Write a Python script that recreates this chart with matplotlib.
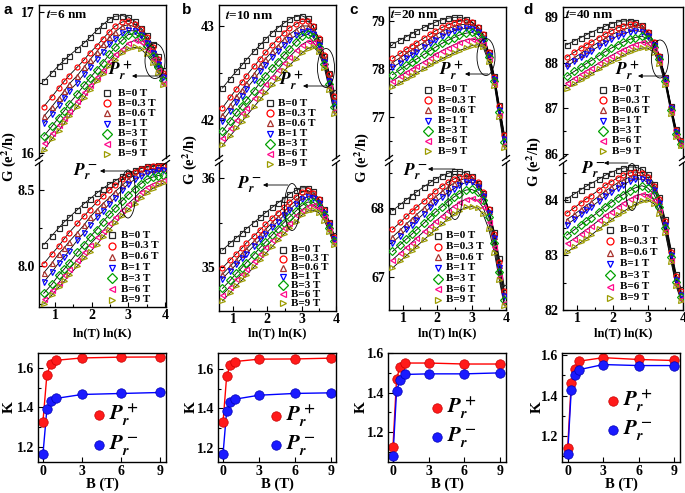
import numpy as np
import matplotlib
matplotlib.use("Agg")
import matplotlib.pyplot as plt
from matplotlib.patches import Ellipse
from matplotlib.ticker import MultipleLocator

plt.rcParams['font.family'] = 'Liberation Serif'
plt.rcParams['font.weight'] = 'bold'
plt.rcParams['mathtext.fontset'] = 'stix'
plt.rcParams['axes.linewidth'] = 1.0

W, H = 685, 493

# temperatures of the G(T) sweeps (K), plotted as ln(T)
temps = [2, 2.5, 3, 3.5, 4, 5, 6, 7, 8.5, 10, 12, 14, 17, 20, 24, 28, 33, 39, 45, 52]
fields = ["0", "0.3", "0.6", "1", "3", "6", "9"]
B_k = [0, 0.3, 0.6, 1, 3, 6, 9]

# ---- t = 6 nm
g6_plus = [
    [16.51, 16.57, 16.62, 16.66, 16.69, 16.74, 16.78, 16.82, 16.87, 16.91, 16.95, 16.97, 16.975, 16.965, 16.935, 16.89, 16.84, 16.77, 16.69, 16.59],
    [16.33, 16.40, 16.46, 16.51, 16.55, 16.61, 16.66, 16.71, 16.76, 16.81, 16.86, 16.90, 16.93, 16.935, 16.915, 16.88, 16.82, 16.75, 16.67, 16.57],
    [16.26, 16.33, 16.39, 16.44, 16.49, 16.55, 16.61, 16.66, 16.72, 16.77, 16.82, 16.86, 16.90, 16.91, 16.895, 16.86, 16.80, 16.73, 16.65, 16.56],
    [16.21, 16.28, 16.34, 16.39, 16.44, 16.50, 16.56, 16.61, 16.67, 16.72, 16.77, 16.81, 16.85, 16.87, 16.865, 16.835, 16.78, 16.71, 16.63, 16.54],
    [16.12, 16.19, 16.25, 16.30, 16.35, 16.42, 16.48, 16.53, 16.59, 16.64, 16.70, 16.75, 16.80, 16.84, 16.845, 16.82, 16.76, 16.69, 16.61, 16.52],
    [16.07, 16.14, 16.20, 16.25, 16.30, 16.37, 16.43, 16.48, 16.54, 16.59, 16.65, 16.70, 16.74, 16.78, 16.80, 16.785, 16.74, 16.67, 16.59, 16.50],
    [16.02, 16.10, 16.16, 16.21, 16.26, 16.33, 16.39, 16.45, 16.51, 16.56, 16.62, 16.66, 16.71, 16.74, 16.75, 16.74, 16.70, 16.64, 16.57, 16.48],
]
g6_minus = [
    [8.14, 8.20, 8.25, 8.29, 8.32, 8.37, 8.41, 8.44, 8.48, 8.51, 8.54, 8.56, 8.59, 8.61, 8.63, 8.645, 8.655, 8.66, 8.665, 8.665],
    [8.015, 8.08, 8.13, 8.18, 8.22, 8.28, 8.33, 8.37, 8.42, 8.46, 8.50, 8.53, 8.57, 8.60, 8.62, 8.64, 8.65, 8.655, 8.66, 8.66],
    [7.955, 8.02, 8.08, 8.12, 8.16, 8.22, 8.27, 8.32, 8.37, 8.41, 8.45, 8.49, 8.53, 8.57, 8.60, 8.62, 8.63, 8.64, 8.645, 8.645],
    [7.894, 7.96, 8.02, 8.06, 8.10, 8.17, 8.22, 8.27, 8.32, 8.36, 8.41, 8.45, 8.50, 8.54, 8.57, 8.59, 8.61, 8.62, 8.63, 8.63],
    [7.82, 7.88, 7.94, 7.98, 8.02, 8.09, 8.14, 8.19, 8.24, 8.29, 8.34, 8.38, 8.43, 8.47, 8.51, 8.54, 8.57, 8.585, 8.595, 8.60],
    [7.78, 7.84, 7.89, 7.94, 7.98, 8.04, 8.09, 8.14, 8.19, 8.23, 8.28, 8.32, 8.37, 8.41, 8.45, 8.49, 8.52, 8.54, 8.555, 8.565],
    [7.75, 7.81, 7.86, 7.90, 7.94, 8.00, 8.05, 8.09, 8.14, 8.19, 8.24, 8.28, 8.33, 8.37, 8.41, 8.45, 8.48, 8.51, 8.53, 8.545],
]
k6_plus = [1.328, 1.563, 1.622, 1.639, 1.651, 1.655, 1.656]
k6_minus = [1.163, 1.390, 1.434, 1.446, 1.466, 1.471, 1.476]

# ---- t = 10 nm
g10_plus = [
    [42.34, 42.44, 42.52, 42.58, 42.64, 42.73, 42.80, 42.86, 42.93, 42.98, 43.03, 43.07, 43.10, 43.11, 43.08, 43.00, 42.86, 42.68, 42.50, 42.30],
    [42.13, 42.24, 42.33, 42.40, 42.47, 42.57, 42.65, 42.72, 42.80, 42.86, 42.93, 42.98, 43.02, 43.05, 43.05, 43.00, 42.87, 42.69, 42.49, 42.26],
    [42.05, 42.16, 42.25, 42.32, 42.39, 42.49, 42.58, 42.65, 42.73, 42.79, 42.86, 42.91, 42.96, 43.00, 43.00, 42.96, 42.84, 42.66, 42.46, 42.22],
    [41.99, 42.10, 42.19, 42.26, 42.33, 42.43, 42.52, 42.59, 42.67, 42.73, 42.80, 42.85, 42.90, 42.94, 42.95, 42.91, 42.80, 42.62, 42.42, 42.18],
    [41.88, 41.99, 42.08, 42.15, 42.21, 42.31, 42.40, 42.47, 42.55, 42.62, 42.69, 42.75, 42.83, 42.89, 42.91, 42.88, 42.78, 42.60, 42.38, 42.14],
    [41.81, 41.91, 42.00, 42.07, 42.13, 42.23, 42.31, 42.38, 42.46, 42.53, 42.61, 42.67, 42.74, 42.80, 42.84, 42.83, 42.75, 42.58, 42.35, 42.10],
    [41.73, 41.83, 41.91, 41.98, 42.04, 42.14, 42.22, 42.29, 42.37, 42.44, 42.52, 42.58, 42.65, 42.71, 42.76, 42.78, 42.72, 42.55, 42.32, 42.06],
]
g10_minus = [
    [35.19, 35.27, 35.33, 35.38, 35.43, 35.50, 35.56, 35.61, 35.67, 35.72, 35.77, 35.82, 35.86, 35.89, 35.89, 35.85, 35.77, 35.65, 35.51, 35.36],
    [34.99, 35.08, 35.15, 35.21, 35.27, 35.35, 35.42, 35.48, 35.55, 35.61, 35.67, 35.73, 35.79, 35.84, 35.86, 35.83, 35.76, 35.64, 35.50, 35.34],
    [34.92, 35.01, 35.08, 35.15, 35.20, 35.29, 35.36, 35.42, 35.50, 35.56, 35.62, 35.68, 35.75, 35.80, 35.83, 35.81, 35.74, 35.62, 35.48, 35.33],
    [34.87, 34.96, 35.03, 35.10, 35.15, 35.24, 35.31, 35.37, 35.45, 35.51, 35.58, 35.64, 35.71, 35.76, 35.79, 35.78, 35.72, 35.61, 35.47, 35.31],
    [34.76, 34.85, 34.93, 34.99, 35.05, 35.14, 35.22, 35.28, 35.36, 35.43, 35.50, 35.56, 35.63, 35.69, 35.73, 35.73, 35.68, 35.58, 35.44, 35.29],
    [34.69, 34.78, 34.86, 34.92, 34.98, 35.07, 35.15, 35.22, 35.30, 35.37, 35.44, 35.50, 35.58, 35.64, 35.69, 35.70, 35.66, 35.56, 35.42, 35.27],
    [34.62, 34.71, 34.79, 34.85, 34.91, 35.00, 35.08, 35.15, 35.23, 35.30, 35.37, 35.44, 35.51, 35.58, 35.63, 35.64, 35.61, 35.52, 35.39, 35.25],
]
k10_plus = [1.331, 1.562, 1.620, 1.637, 1.649, 1.650, 1.654]
k10_minus = [1.170, 1.388, 1.434, 1.447, 1.467, 1.476, 1.479]

# ---- t = 20 nm
g20_plus = [
    [78.51, 78.60, 78.67, 78.73, 78.78, 78.86, 78.92, 78.97, 79.02, 79.05, 79.07, 79.07, 79.04, 78.98, 78.87, 78.72, 78.35, 77.85, 77.25, 76.65],
    [78.22, 78.32, 78.41, 78.48, 78.54, 78.64, 78.72, 78.79, 78.86, 78.91, 78.96, 78.99, 79.00, 78.97, 78.87, 78.72, 78.34, 77.83, 77.22, 76.62],
    [78.13, 78.23, 78.32, 78.39, 78.45, 78.55, 78.63, 78.70, 78.78, 78.83, 78.88, 78.91, 78.93, 78.91, 78.83, 78.69, 78.32, 77.81, 77.19, 76.58],
    [78.03, 78.13, 78.22, 78.29, 78.35, 78.45, 78.53, 78.60, 78.68, 78.74, 78.79, 78.82, 78.84, 78.83, 78.76, 78.63, 78.28, 77.78, 77.15, 76.54],
    [77.88, 77.98, 78.07, 78.14, 78.20, 78.30, 78.38, 78.45, 78.53, 78.59, 78.65, 78.70, 78.74, 78.76, 78.71, 78.59, 78.25, 77.74, 77.10, 76.48],
    [77.75, 77.85, 77.93, 78.00, 78.06, 78.15, 78.23, 78.30, 78.38, 78.44, 78.50, 78.55, 78.60, 78.62, 78.60, 78.51, 78.20, 77.69, 77.05, 76.42],
    [77.62, 77.71, 77.79, 77.85, 77.91, 78.00, 78.08, 78.14, 78.21, 78.27, 78.33, 78.38, 78.43, 78.48, 78.50, 78.45, 78.15, 77.65, 77.00, 76.35],
]
g20_minus = [
    [67.96, 68.05, 68.12, 68.18, 68.23, 68.31, 68.37, 68.42, 68.47, 68.50, 68.53, 68.53, 68.51, 68.46, 68.36, 68.22, 67.98, 67.65, 67.27, 66.86],
    [67.69, 67.79, 67.88, 67.95, 68.01, 68.10, 68.18, 68.25, 68.32, 68.37, 68.42, 68.45, 68.47, 68.45, 68.37, 68.23, 67.98, 67.63, 67.22, 66.80],
    [67.58, 67.68, 67.77, 67.84, 67.90, 68.00, 68.09, 68.16, 68.24, 68.30, 68.36, 68.40, 68.43, 68.42, 68.35, 68.21, 67.96, 67.60, 67.18, 66.76],
    [67.50, 67.60, 67.69, 67.76, 67.82, 67.92, 68.01, 68.08, 68.16, 68.22, 68.28, 68.33, 68.37, 68.37, 68.31, 68.18, 67.93, 67.56, 67.14, 66.72],
    [67.37, 67.47, 67.55, 67.62, 67.68, 67.78, 67.87, 67.94, 68.02, 68.09, 68.16, 68.21, 68.26, 68.27, 68.23, 68.11, 67.87, 67.50, 67.07, 66.66],
    [67.25, 67.35, 67.43, 67.50, 67.56, 67.66, 67.74, 67.81, 67.89, 67.96, 68.03, 68.08, 68.13, 68.14, 68.11, 68.01, 67.79, 67.43, 67.00, 66.62],
    [67.13, 67.23, 67.31, 67.38, 67.44, 67.54, 67.62, 67.69, 67.77, 67.84, 67.91, 67.96, 68.01, 68.02, 68.00, 67.91, 67.70, 67.35, 66.95, 66.58],
]
k20_plus = [1.125, 1.471, 1.533, 1.551, 1.551, 1.546, 1.546]
k20_minus = [1.081, 1.409, 1.466, 1.493, 1.496, 1.496, 1.501]

# ---- t = 40 nm
g40_plus = [
    [88.39, 88.48, 88.55, 88.61, 88.66, 88.74, 88.80, 88.85, 88.89, 88.91, 88.92, 88.90, 88.82, 88.68, 88.45, 88.15, 87.68, 87.05, 86.55, 86.30],
    [88.12, 88.23, 88.32, 88.39, 88.45, 88.55, 88.63, 88.69, 88.76, 88.80, 88.84, 88.85, 88.80, 88.67, 88.45, 88.15, 87.67, 87.03, 86.52, 86.28],
    [88.00, 88.11, 88.20, 88.28, 88.34, 88.45, 88.53, 88.60, 88.67, 88.72, 88.77, 88.79, 88.76, 88.64, 88.43, 88.13, 87.66, 87.01, 86.50, 86.26],
    [87.92, 88.03, 88.12, 88.19, 88.25, 88.36, 88.44, 88.51, 88.58, 88.63, 88.68, 88.70, 88.68, 88.58, 88.39, 88.10, 87.64, 87.00, 86.48, 86.24],
    [87.70, 87.81, 87.90, 87.98, 88.04, 88.15, 88.24, 88.31, 88.39, 88.45, 88.51, 88.55, 88.58, 88.52, 88.35, 88.07, 87.60, 86.96, 86.44, 86.22],
    [87.56, 87.66, 87.75, 87.82, 87.88, 87.99, 88.08, 88.15, 88.23, 88.29, 88.36, 88.41, 88.45, 88.42, 88.29, 88.02, 87.56, 86.92, 86.40, 86.20],
    [87.43, 87.53, 87.62, 87.69, 87.75, 87.85, 87.94, 88.01, 88.09, 88.16, 88.23, 88.28, 88.32, 88.32, 88.22, 87.97, 87.52, 86.88, 86.36, 86.17],
]
g40_minus = [
    [84.02, 84.11, 84.19, 84.25, 84.30, 84.38, 84.45, 84.50, 84.55, 84.58, 84.60, 84.60, 84.56, 84.47, 84.30, 84.05, 83.65, 83.10, 82.65, 82.38],
    [83.76, 83.86, 83.95, 84.02, 84.08, 84.18, 84.27, 84.33, 84.40, 84.45, 84.49, 84.51, 84.49, 84.41, 84.25, 84.01, 83.61, 83.06, 82.61, 82.34],
    [83.64, 83.74, 83.83, 83.90, 83.96, 84.07, 84.16, 84.23, 84.31, 84.36, 84.42, 84.45, 84.44, 84.37, 84.22, 83.98, 83.58, 83.03, 82.58, 82.31],
    [83.55, 83.65, 83.74, 83.81, 83.87, 83.98, 84.07, 84.14, 84.22, 84.28, 84.34, 84.38, 84.38, 84.32, 84.18, 83.95, 83.55, 83.00, 82.55, 82.28],
    [83.36, 83.46, 83.55, 83.62, 83.68, 83.79, 83.88, 83.95, 84.04, 84.10, 84.17, 84.22, 84.26, 84.22, 84.10, 83.88, 83.50, 82.96, 82.51, 82.24],
    [83.21, 83.30, 83.39, 83.46, 83.52, 83.63, 83.72, 83.79, 83.88, 83.95, 84.02, 84.07, 84.11, 84.10, 84.00, 83.80, 83.44, 82.91, 82.47, 82.20],
    [83.05, 83.14, 83.23, 83.30, 83.36, 83.47, 83.56, 83.63, 83.72, 83.79, 83.86, 83.92, 83.98, 84.00, 83.93, 83.75, 83.40, 82.87, 82.43, 82.16],
]
k40_plus = [1.140, 1.462, 1.532, 1.570, 1.587, 1.578, 1.573]
k40_minus = [1.112, 1.425, 1.503, 1.528, 1.553, 1.548, 1.548]

cols = ['#262626', '#FF0000', '#A8322D', '#0000FF', '#00A000', '#FF0A8C', '#9C9C00']
marks = ['s', 'o', '^', 'v', 'D', '<', '>']

# layout in pixels: (left, top, right, bottom)
panels = [
    dict(tag='a', th='6', up=(39, 5, 166, 158), lo=(39, 163, 166, 307), kk=(38, 353, 166, 462),
         xlim=(0.564, 4.027), uy=(15.965, 17.05), ut=[16, 17], ly=(7.73, 8.678), lt=[8.0, 8.5], lmin=0.25,
         gp=g6_plus, gm=g6_minus, kp=k6_plus, km=k6_minus, ky=(1.124, 1.676), kx=(-0.38, 9.46),
         letter=(4, 10), ttl=(46, 15), glab=(9, 157), klab=(9, 407),
         leg_u=(107, 118, 93, 154), leg_l=(112, 121, 235, 300),
         ell_u=(155, 61, 20, 35), arr_u=(158, 132, 76), pl_u=(121, 71),
         ell_l=(128, 194, 15, 48), arr_l=(125, 100, 171), pl_l=(86, 172),
         kleg=(99, 415, 445)),
    dict(tag='b', th='10', up=(219, 5, 336, 158), lo=(219, 163, 336, 311), kk=(218, 353, 336, 462),
         xlim=(0.592, 4.0), uy=(41.596, 43.223), ut=[42, 43], ly=(34.506, 36.169), lt=[35, 36], lmin=0.5,
         gp=g10_plus, gm=g10_minus, kp=k10_plus, km=k10_minus, ky=(1.13, 1.68), kx=(-0.42, 9.42),
         letter=(182, 10), ttl=(225, 16), glab=(190, 160), klab=(191, 407),
         leg_u=(270, 278, 103, 164), leg_l=(283, 291, 250, 303),
         ell_u=(326, 68, 17, 39), arr_u=(327, 303, 86), pl_u=(292, 81),
         ell_l=(292, 207, 15, 47), arr_l=(288, 263, 185), pl_l=(250, 185),
         kleg=(276, 416, 445)),
    dict(tag='c', th='20', up=(389, 7, 506, 158), lo=(389, 163, 506, 310), kk=(388, 353, 506, 462),
         xlim=(0.592, 4.0), uy=(76.15, 79.284), ut=[77, 78, 79], ly=(66.522, 68.652), lt=[67, 68], lmin=0.5,
         gp=g20_plus, gm=g20_minus, kp=k20_plus, km=k20_minus, ky=(1.048, 1.602), kx=(-0.42, 9.5),
         letter=(349, 10), ttl=(390, 15), glab=(362, 158), klab=(361, 407),
         leg_u=(428, 438, 90, 151), leg_l=(438, 446, 236, 300),
         ell_u=(486, 57, 18, 37), arr_u=(488, 465, 74), pl_u=(452, 71),
         ell_l=(455, 197, 14, 45), arr_l=(455, 428, 169), pl_l=(416, 172),
         kleg=(437, 408, 437)),
    dict(tag='d', th='40', up=(563, 7, 683, 158), lo=(563, 163, 683, 310), kk=(562, 353, 680, 462),
         xlim=(0.592, 4.0), uy=(85.91, 89.219), ut=[86, 87, 88, 89], ly=(82.0, 84.673), lt=[82, 83, 84], lmin=0.5,
         gp=g40_plus, gm=g40_minus, kp=k40_plus, km=k40_minus, ky=(1.072, 1.61), kx=(-0.48, 9.5),
         letter=(523, 10), ttl=(565, 15), glab=(534, 162), klab=(537, 407),
         leg_u=(603, 612, 90, 151), leg_l=(610, 620, 230, 298),
         ell_u=(660, 59, 17, 38), arr_u=(663, 638, 76), pl_u=(628, 71),
         ell_l=(632, 187, 13, 47), arr_l=(628, 604, 163), pl_l=(594, 170),
         kleg=(613, 401, 430)),
]


def rect(box):
    l, t, r, b = box
    return [l / W, 1 - b / H, (r - l) / W, (b - t) / H]


def style(ax, size=10, pad=3):
    ax.tick_params(direction='in', which='both', labelsize=size, width=0.8,
                   top=False, right=False, pad=pad)
    ax.tick_params(which='major', length=3.5)
    ax.tick_params(which='minor', length=2)
    for lab in ax.get_xticklabels() + ax.get_yticklabels():
        lab.set_fontweight('bold')


fig = plt.figure(figsize=(W / 100, H / 100), dpi=100)
lnT = np.log(temps)

for p in panels:
    # G(T) curves, broken axis
    axu = fig.add_axes(rect(p['up']))
    axl = fig.add_axes(rect(p['lo']))
    for ax, data in [(axu, p['gp']), (axl, p['gm'])]:
        for i in range(7):
            ax.plot(lnT, data[i], color='k', lw=0.6, zorder=2)
            ax.plot(lnT, data[i], ls='none', marker=marks[i], ms=3.6, mfc='none',
                    mec=cols[i], mew=0.85, zorder=3)
        ax.set_xlim(*p['xlim'])
    axu.set_ylim(*p['uy'])
    axu.set_yticks(p['ut'])
    axu.yaxis.set_minor_locator(MultipleLocator(0.5))
    axu.spines['bottom'].set_visible(False)
    axu.set_xticks([])
    axl.set_ylim(*p['ly'])
    axl.set_yticks(p['lt'])
    axl.yaxis.set_minor_locator(MultipleLocator(p['lmin']))
    axl.spines['top'].set_visible(False)
    axl.set_xticks([1, 2, 3, 4])
    axl.xaxis.set_minor_locator(MultipleLocator(0.5))
    if p['tag'] == 'a':
        axl.set_yticklabels(['8.0', '8.5'])
    style(axu)
    style(axl)
    axl.tick_params(axis='x', pad=1.5)
    axu.tick_params(axis='x', which='both', bottom=False)

    # K vs B
    axk = fig.add_axes(rect(p['kk']))
    axk.plot(B_k, p['kp'], '-', color='#FF0000', lw=1.0)
    axk.plot(B_k, p['km'], '-', color='#0000FF', lw=1.0)
    axk.plot(B_k, p['kp'], 'o', ms=6.8, color='#FF1A1A', mec='#C80000', mew=0.5)
    axk.plot(B_k, p['km'], 'o', ms=6.8, color='#1A1AFF', mec='#0000B4', mew=0.5)
    axk.set_xlim(*p['kx'])
    axk.set_ylim(*p['ky'])
    axk.set_xticks([0, 3, 6, 9])
    axk.set_yticks([1.2, 1.4, 1.6])
    axk.yaxis.set_minor_locator(MultipleLocator(0.1))
    style(axk, 10)
    axk.tick_params(axis='x', pad=2)

# overlay in pixel units for labels and annotations
ov = fig.add_axes([0, 0, 1, 1], facecolor='none')
ov.set_xlim(0, W)
ov.set_ylim(H, 0)
ov.axis('off')

for p in panels:
    ov.text(p['letter'][0], p['letter'][1], p['tag'], family='Liberation Sans',
            fontsize=11, fontweight='bold', ha='left', va='center')
    ov.text(p['ttl'][0], p['ttl'][1], '$\\mathbf{\\it{t}}$=' + p['th'] + ' nm',
            fontsize=9.5, ha='left', va='center')
    ov.text(p['glab'][0], p['glab'][1], 'G (e$^{\\mathbf{2}}$/h)', rotation=90,
            fontsize=10.5, ha='center', va='center')
    ov.text(p['klab'][0], p['klab'][1], 'K', rotation=90, fontsize=11,
            ha='center', va='center')
    xl = p['lo']
    ov.text((xl[0] + xl[2]) / 2, 333, 'ln(T) ln(K)', fontsize=9, ha='center', va='center')
    xk = p['kk']
    ov.text((xk[0] + xk[2]) / 2, 484, 'B (T)', fontsize=10.5, ha='center', va='center')

    # axis break marks
    for xs in (p['up'][0], p['up'][2]):
        for yb in (p['up'][3], p['lo'][1]):
            ov.plot([xs - 3.5, xs + 3.5], [yb + 2.5, yb - 2.5], color='k', lw=0.9)

    # field legends
    for key in ('leg_u', 'leg_l'):
        xm, xt, y0, y1 = p[key]
        ys = np.linspace(y0, y1, 7)
        for i in range(7):
            ov.plot(xm, ys[i], marker=marks[i], ms=5, mfc='none', mec=cols[i], mew=0.9)
            ov.text(xt, ys[i], 'B=' + fields[i] + ' T', fontsize=8, ha='left', va='center')

    # ellipses, arrows and P labels
    for e, a, pl, sgn in [(p['ell_u'], p['arr_u'], p['pl_u'], '+'),
                          (p['ell_l'], p['arr_l'], p['pl_l'], '-')]:
        ov.add_patch(Ellipse((e[0], e[1]), e[2], e[3], fill=False, ec='k', lw=0.6))
        ov.annotate('', xy=(a[1], a[2]), xytext=(a[0], a[2]),
                    arrowprops=dict(arrowstyle='-|>', lw=0.6, color='k', mutation_scale=6,
                                    shrinkA=0, shrinkB=0))
        ov.text(pl[0], pl[1], '$P_r^' + sgn + '$', fontsize=12.5, ha='center', va='center')

    # K legend
    xm, yp, ym = p['kleg']
    ov.plot(xm, yp, 'o', ms=6.8, color='#FF1A1A', mec='#C80000', mew=0.5)
    ov.plot(xm, ym, 'o', ms=6.8, color='#1A1AFF', mec='#0000B4', mew=0.5)
    ov.text(xm + 10, yp, '$P_r^+$', fontsize=15, ha='left', va='center')
    ov.text(xm + 10, ym, '$P_r^-$', fontsize=15, ha='left', va='center')

fig.savefig('out.png', dpi=100)
